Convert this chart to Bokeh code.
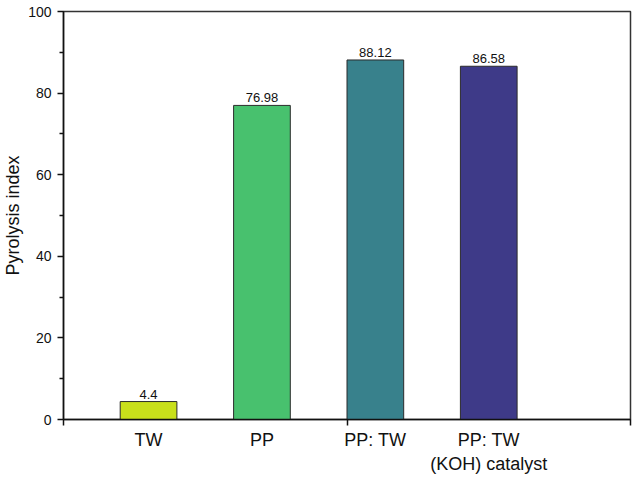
from bokeh.plotting import figure
from bokeh.models import ColumnDataSource, FixedTicker, Range1d, LabelSet
from bokeh.core.properties import value
from bokeh.embed import file_html
from bokeh.resources import INLINE

categories = ["TW", "PP", "PP: TW", "PP: TW\n(KOH) catalyst"]
values = [4.4, 76.98, 88.12, 86.58]
value_labels = ["4.4", "76.98", "88.12", "86.58"]
colors = ["#c9e01b", "#48c16e", "#38818c", "#3e3a88"]
positions = [1, 2, 3, 4]
y_ticks = [0, 20, 40, 60, 80, 100]

src = ColumnDataSource(dict(x=positions, top=values, lab=value_labels, color=colors))

p = figure(width=640, height=479, output_backend="svg", toolbar_location=None,
           x_range=Range1d(0.25, 5.25), y_range=Range1d(0, 100),
           min_border_left=63, min_border_top=11, min_border_right=10, min_border_bottom=60)
p.frame_width = 567
p.frame_height = 408

p.vbar(x="x", top="top", width=0.5, bottom=0, source=src, fill_color="color",
       line_color="#2b2b2b", line_width=1)

labels = LabelSet(x="x", y="top", text="lab", source=src, text_align="center",
                  text_baseline="bottom", y_offset=3, text_font_size="13px",
                  text_font=value("Liberation Sans"), text_color="#111111")
p.add_layout(labels)

p.grid.visible = False
p.outline_line_color = "#333333"
p.outline_line_width = 1.5

# x axis
p.xaxis.ticker = FixedTicker(ticks=positions, minor_ticks=[0.25, 2.75, 5.25])
p.xaxis.major_label_overrides = {pos: c for pos, c in zip(positions, categories)}
p.xaxis.major_tick_out = 0
p.xaxis.major_tick_in = 0
p.xaxis.minor_tick_out = 6
p.xaxis.minor_tick_in = 0
p.xaxis.minor_tick_line_width = 1.5
p.xaxis.minor_tick_line_color = "#111111"
p.xaxis.axis_line_width = 1.5
p.xaxis.axis_line_color = "#111111"
p.xaxis.major_label_text_font = "Liberation Sans"
p.xaxis.major_label_text_font_size = "18px"
p.xaxis.major_label_text_color = "#111111"
p.xaxis.major_label_standoff = 4

# y axis
p.yaxis.ticker = FixedTicker(ticks=y_ticks, minor_ticks=[10, 30, 50, 70, 90])
p.yaxis.axis_label = "Pyrolysis index"
p.yaxis.axis_label_text_font = "Liberation Sans"
p.yaxis.axis_label_text_font_size = "18px"
p.yaxis.axis_label_text_font_style = "normal"
p.yaxis.axis_label_text_color = "#111111"
p.yaxis.axis_label_standoff = 2
p.yaxis.major_label_text_font = "Liberation Sans"
p.yaxis.major_label_text_font_size = "14px"
p.yaxis.major_label_text_color = "#111111"
p.yaxis.major_label_standoff = 6
p.yaxis.major_tick_out = 6
p.yaxis.major_tick_in = 0
p.yaxis.minor_tick_out = 4
p.yaxis.minor_tick_in = 0
p.yaxis.major_tick_line_width = 1.5
p.yaxis.minor_tick_line_width = 1.5
p.yaxis.axis_line_width = 1.5
p.yaxis.axis_line_color = "#111111"
p.yaxis.major_tick_line_color = "#111111"
p.yaxis.minor_tick_line_color = "#111111"

open("out.html", "w").write(file_html(p, INLINE))
